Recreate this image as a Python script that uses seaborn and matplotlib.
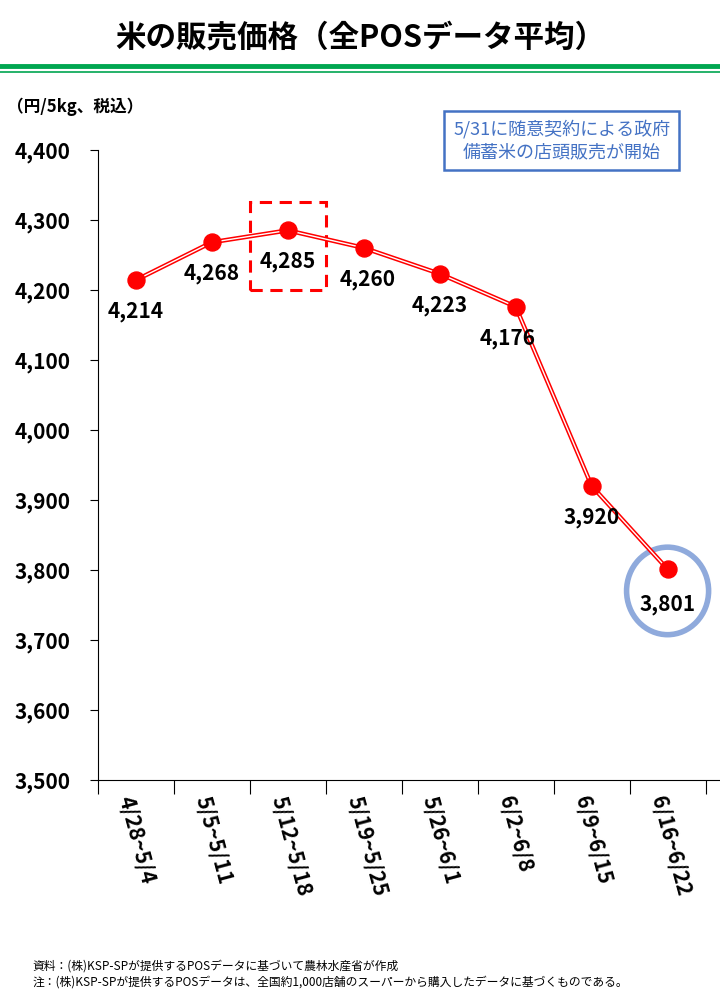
import matplotlib
matplotlib.use("Agg")
import matplotlib.pyplot as plt
import seaborn as sns
import pandas as pd
from matplotlib.patches import Rectangle, Ellipse

plt.rcParams["font.family"] = "Noto Sans CJK JP"

weeks = ["4/28~5/4", "5/5~5/11", "5/12~5/18", "5/19~5/25",
         "5/26~6/1", "6/2~6/8", "6/9~6/15", "6/16~6/22"]
prices = [4214, 4268, 4285, 4260, 4223, 4176, 3920, 3801]
yticks = list(range(3500, 4401, 100))

df = pd.DataFrame({"week": weeks, "price": prices, "x": range(len(weeks))})

fig = plt.figure(figsize=(7.2, 9.97), dpi=100)
ax = fig.add_axes([0.136, 0.2177, 0.864, 0.632])

# double line: red outer, white inner
sns.lineplot(data=df, x="x", y="price", color="red", lw=3.2, ax=ax)
sns.lineplot(data=df, x="x", y="price", color="white", lw=1.0, ax=ax)
sns.scatterplot(data=df, x="x", y="price", color="red", s=150, edgecolor="red", zorder=5, ax=ax)

ax.set_xlim(-0.49, 7.69)
ax.set_ylim(3500, 4400)
ax.set_yticks(yticks)
ax.set_yticklabels([f"{v:,}" for v in yticks], fontsize=15, fontweight="bold")
ax.set_xticks([i + 0.5 for i in range(-1, 8)])
ax.set_xticklabels([])
ax.set_xticks(range(8), minor=True)
ax.set_xticklabels(weeks, minor=True, rotation=-75, ha="left", va="top",
                   fontsize=15, fontweight="bold", rotation_mode="anchor")
ax.tick_params(axis="x", which="major", length=10, direction="out")
ax.tick_params(axis="x", which="minor", length=0, pad=10)
ax.tick_params(axis="y", length=6, pad=14)
ax.set_xlabel("")
ax.set_ylabel("")
for s in ["top", "right"]:
    ax.spines[s].set_visible(False)

offsets = [(0, -30), (0, -30), (0, -30), (0.05, -30), (0, -30),
           (-0.1, -30), (0, -30), (0, -35)]
for i, (p, (dx, dy)) in enumerate(zip(prices, offsets)):
    ax.text(i + dx, p + dy, f"{p:,}", ha="center", va="top", fontsize=15, fontweight="bold")

ax.add_patch(Rectangle((1.5, 4200), 1.0, 125, fill=False, ec="red", lw=2.2, ls=(0, (4, 2.5))))
ax.add_patch(Ellipse((7.0, 3770), 1.08, 125, fill=False, ec="#8FAADC", lw=4))

fig.text(0.5, 0.962, "米の販売価格（全POSデータ平均）", ha="center", va="center",
         fontsize=22, fontweight="bold")
fig.add_artist(plt.Line2D([0, 1], [0.934, 0.934], color="#00A650", lw=3.5))
fig.add_artist(plt.Line2D([0, 1], [0.928, 0.928], color="#00A650", lw=1.2))
fig.text(0.01, 0.893, "（円/5kg、税込）", ha="left", va="center", fontsize=12, fontweight="bold")
fig.text(0.78, 0.859, "5/31に随意契約による政府\n備蓄米の店頭販売が開始", ha="center", va="center",
         fontsize=13, color="#4472C4", linespacing=1.3,
         bbox=dict(boxstyle="square,pad=0.5", fc="white", ec="#4472C4", lw=1.8))
fig.text(0.045, 0.008, "資料：(株)KSP-SPが提供するPOSデータに基づいて農林水産省が作成\n"
         "注：(株)KSP-SPが提供するPOSデータは、全国約1,000店舗のスーパーから購入したデータに基づくものである。",
         ha="left", va="bottom", fontsize=8.5, linespacing=1.3)

fig.savefig("out.png", dpi=100)
